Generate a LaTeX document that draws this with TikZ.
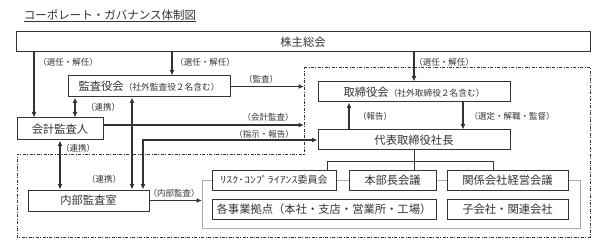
\documentclass[tikz,border=0pt]{standalone}
\usepackage{fontspec}
\setmainfont{Noto Sans CJK JP}
\usetikzlibrary{arrows.meta}
\definecolor{ln}{HTML}{333333}
\definecolor{gr}{HTML}{AAAAAA}
\begin{document}
\begin{tikzpicture}[x=1pt,y=-1pt,
  box/.style={draw=ln, line width=1pt, minimum height=20pt, inner sep=0pt, anchor=center,
    font=\fontsize{11.3}{13}\selectfont, text=ln},
  lbl/.style={font=\fontsize{8.5}{10}\selectfont, text=ln, inner sep=0pt},
  arr/.style={draw=ln, line width=1.1pt, -{Latex[length=5.5pt,width=5pt]}},
  darr/.style={draw=ln, line width=1.1pt, {Latex[length=5.5pt,width=5pt]}-{Latex[length=5.5pt,width=5pt]}},
  tree/.style={draw=ln, line width=1pt},
  grline/.style={draw=gr, line width=0.7pt},
  ddline/.style={draw=ln, line width=0.9pt, dash pattern=on 3pt off 1.5pt on 0.9pt off 1.5pt}
]
\useasboundingbox (0,0) rectangle (613,251);

% title
\node[inner sep=0pt, text=ln, font=\fontsize{11.5}{13}\selectfont] (title) at (110,15) {コーポレート・ガバナンス体制図};
\draw[ln, line width=0.7pt] ([yshift=-2pt]title.base west) -- ([yshift=-2pt]title.base east);

% dash-dot region
\draw[ddline] (304,67) -- (590,67) -- (590,237) -- (17,237) -- (17,154) -- (304,154) -- cycle;
\coordinate (ddL) at (304,67);

% boxes
\node[box, minimum width=574pt] (kabu) at (303,42) {株主総会};
\node[box, minimum width=162pt, minimum height=21pt] (kansa) at (149,86.5) {監査役会{\fontsize{8.7}{10}\selectfont （社外監査役２名含む）}};
\node[box, minimum width=192pt] (tori) at (414,92) {取締役会{\fontsize{8.7}{10}\selectfont （社外取締役２名含む）}};
\node[box, minimum width=86pt, minimum height=22pt] (kaikei) at (60,129) {会計監査人};
\node[box, minimum width=192pt] (daihyo) at (414,140) {代表取締役社長};
\node[box, minimum width=121pt, minimum height=21pt] (naibu) at (88.5,200.5) {内部監査室};
\node[box, minimum width=124pt] (risk) at (274,180) {\scalebox{1.25}[1]{\fontsize{9.5}{11}\selectfont ﾘｽｸ･ｺﾝﾌﾟﾗｲｱﾝｽ}{\fontsize{10}{11}\selectfont 委員会}};
\node[box, minimum width=87pt] (honbu) at (392.5,180) {本部長会議};
\node[box, minimum width=121pt] (kankei) at (507.5,180) {関係会社経営会議};
\node[box, minimum width=224pt] (jigyo) at (324,209) {各事業拠点（本社・支店・営業所・工場）};
\node[box, minimum width=121pt] (ko) at (507.5,209) {子会社・関連会社};

% helper coordinates
\coordinate (xa) at (34,0);
\coordinate (xb) at (172,0);
\coordinate (xc) at (75,0);
\coordinate (xd) at (132,0);
\coordinate (xe) at (143,0);
\coordinate (xf) at (349,0);
\coordinate (xg) at (463,0);
\coordinate (xh) at (327,0);
\coordinate (xi) at (493,0);
\coordinate (yt) at (0,161);
\coordinate (brL) at (202,228);
\coordinate (brR) at (580,228);
\coordinate (ka) at ([yshift=4pt]kaikei.east);

% arrows
\draw[arr] (kabu.south -| xa) -- (kaikei.north -| xa);
\draw[arr] (kabu.south -| xb) -- (kansa.north -| xb);
\draw[arr] (kabu.south -| tori.north) -- (tori.north);
\draw[arr] (kansa.east) -- (kansa.east -| ddL);
\draw[arr] (ka) -- (ka -| ddL);
\draw[darr] (kansa.south -| xc) -- (kaikei.north -| xc);
\draw[darr] (kansa.south -| xd) -- (naibu.north -| xd);
\draw[darr] (naibu.north -| xe) |- (daihyo.west);
\draw[darr] (kaikei.south) -- (naibu.north -| kaikei.south);
\draw[arr] (naibu.east) -- (naibu.east -| brL);
\draw[arr] (daihyo.north -| xf) -- (tori.south -| xf);
\draw[arr] (tori.south -| xg) -- (daihyo.north -| xg);

% tree
\draw[tree] (daihyo.south) -- (honbu.north -| daihyo.south);
\draw[tree] (risk.north -| xh) |- (yt -| xi) -- (kankei.north -| xi);

% gray grouping lines
\draw[grline] (risk.east) -- (honbu.west);
\draw[grline] (honbu.east) -- (kankei.west);
\draw[grline] (risk.west) -| (brL) -- (brR) |- (kankei.east);

% labels
\node[lbl] (l1) at (68,62) {（選任・解任）};
\node[lbl] (l2) at (205,62) {（選任・解任）};
\node[lbl] (l3) at (444,62) {（選任・解任）};
\node[lbl] (l4) at (261,79) {（監査）};
\node[lbl] (l5) at (103,107) {（連携）};
\node[lbl] (l6) at (268,117) {（会計監査）};
\node[lbl] (l7) at (264,134) {（指示・報告）};
\node[lbl] (l8) at (78,148) {（連携）};
\node[lbl] (l9) at (104,179) {（連携）};
\node[lbl] (l10) at (174,193) {（内部監査）};
\node[lbl] (l11) at (375,116) {（報告）};
\node[lbl] (l12) at (512,116) {（選定・解職・監督）};
\end{tikzpicture}
\end{document}
